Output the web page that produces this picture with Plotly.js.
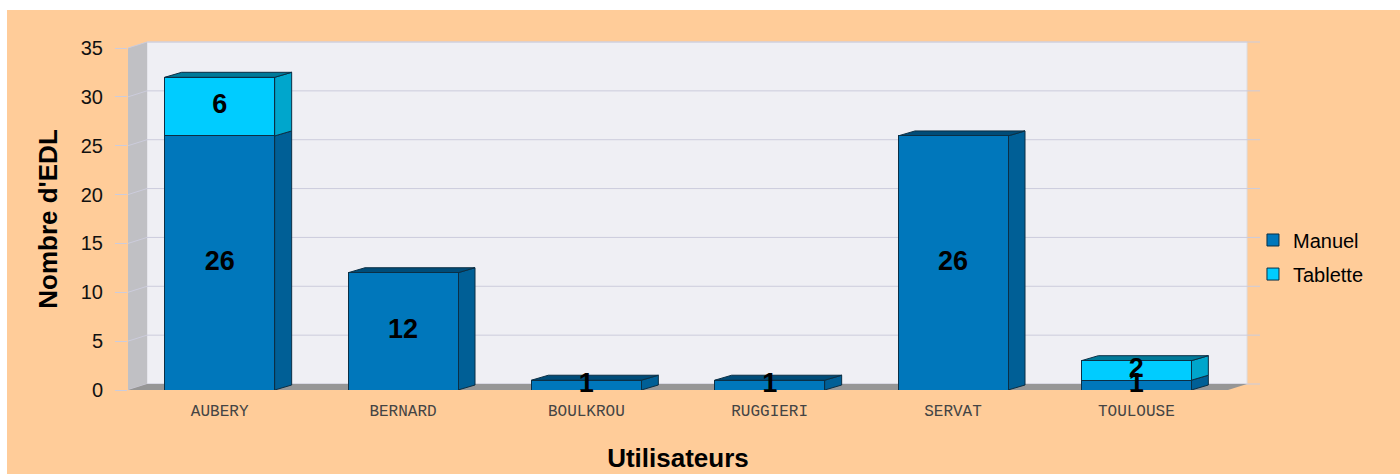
<!DOCTYPE html>
<html>
<head>
<meta charset="utf-8">
<script src="https://cdn.plot.ly/plotly-3.0.1.min.js"></script>
<style>
  html, body { margin: 0; padding: 0; background: #ffffff; }
  #chart { position: absolute; left: 7px; top: 10px; width: 1393px; height: 464px; }
</style>
</head>
<body>
<div id="chart"></div>
<script>
// ---- data ----
const categories = ["AUBERY", "BERNARD", "BOULKROU", "RUGGIERI", "SERVAT", "TOULOUSE"];
const manuel   = [26, 12, 1, 1, 26, 1];
const tablette = [6, 0, 0, 0, 0, 2];
const yTicks   = [0, 5, 10, 15, 20, 25, 30, 35];

// ---- style ----
const colManuel = {front: "#0077BB", side: "#005F96", top: "#004C78"};
const colTab    = {front: "#00CCFF", side: "#00A6CC", top: "#007A99"};
const edge = "#0B2F45";
const barW = 0.6, half = barW / 2;
const xMin = -0.5, xMax = categories.length - 0.5, yMax = 35;
// pixel scale of the front plane (plot area 1100 x 342 px)
const pxX = 1100 / (xMax - xMin), pxY = 342 / yMax;
const BDX = 17 / pxX, BDY = 5 / pxY;   // bar depth (data units)
const WDX = 19 / 1100, WDY = 6 / 342;  // wall depth (paper units)
const px = v => v / yMax;              // y data -> paper

const xs = categories.map((_, i) => i);
const shapes = [];

function poly(pts, fill, line, lw, ref) {
  let p = "M" + pts.map(q => q[0] + "," + q[1]).join(" L") + " Z";
  return {type: "path", path: p, xref: ref || "x", yref: ref ? "paper" : "y", fillcolor: fill,
          line: {color: line || fill, width: lw === undefined ? 0 : lw}, layer: "below"};
}

// back wall (paper coordinates, so that it is not clipped)
shapes.push(poly([[WDX, WDY], [1 + WDX, WDY], [1 + WDX, 1 + WDY], [WDX, 1 + WDY]], "#EFEFF4", "#DCDCE2", 1, "paper"));
// side wall
shapes.push(poly([[0, 0], [WDX, WDY], [WDX, 1 + WDY], [0, 1]], "#C0C0C4", null, 0, "paper"));
// gridlines on walls
const ext = 13 / 1100;
yTicks.forEach(v => {
  shapes.push({type: "line", xref: "paper", yref: "paper", x0: WDX, x1: 1 + WDX + ext, y0: px(v) + WDY, y1: px(v) + WDY,
               line: {color: "#CCCCDC", width: 1}, layer: "below"});
  shapes.push({type: "line", xref: "paper", yref: "paper", x0: 0, x1: WDX, y0: px(v), y1: px(v) + WDY,
               line: {color: "#CCCCDC", width: 1}, layer: "below"});
});
// floor
shapes.push(poly([[0, 0], [1, 0], [1 + WDX, WDY], [WDX, WDY]], "#969696", null, 0, "paper"));

// 3D faces of bars
xs.forEach(i => {
  const segs = [
    {b: 0, v: manuel[i], c: colManuel},
    {b: manuel[i], v: tablette[i], c: colTab}
  ].filter(s => s.v > 0);
  segs.forEach((s, k) => {
    const r = i + half;
    shapes.push(poly([[r, s.b], [r + BDX, s.b + BDY], [r + BDX, s.b + s.v + BDY], [r, s.b + s.v]], s.c.side, edge, 1));
    if (k === segs.length - 1) {
      const t = s.b + s.v;
      shapes.push(poly([[i - half, t], [i - half + BDX, t + BDY], [r + BDX, t + BDY], [r, t]], s.c.top, edge, 1));
    }
  });
});

const labelFont = {family: "Liberation Sans, Arial, sans-serif", size: 27, color: "#000", weight: "bold"};
const withTab = xs.filter(i => tablette[i] > 0);
const traces = [
  {type: "bar", name: "Manuel", x: xs, y: manuel, width: barW, legend: "legend",
   marker: {color: colManuel.front, line: {color: edge, width: 1}}, hoverinfo: "skip"},
  {type: "bar", name: "Tablette", x: xs, y: tablette, width: barW, legend: "legend2",
   marker: {color: colTab.front, line: {color: edge, width: 1}}, hoverinfo: "skip"},
  {type: "scatter", mode: "text", showlegend: false, hoverinfo: "skip", cliponaxis: false,
   x: xs, y: manuel.map(v => v / 2), text: manuel.map(String), textposition: "middle center",
   textfont: labelFont},
  {type: "scatter", mode: "text", showlegend: false, hoverinfo: "skip", cliponaxis: false,
   x: withTab, y: withTab.map(i => manuel[i] + tablette[i] / 2),
   text: withTab.map(i => String(tablette[i])), textposition: "middle center",
   textfont: labelFont}
];

const legendCommon = {x: 1.0227, xanchor: "left", yanchor: "middle", bgcolor: "rgba(0,0,0,0)",
  font: {family: "Liberation Sans, Arial, sans-serif", size: 20, color: "#000"}};

const layout = {
  width: 1393, height: 464,
  margin: {l: 121, r: 172, t: 38, b: 84},
  paper_bgcolor: "#FFCC99",
  plot_bgcolor: "rgba(0,0,0,0)",
  barmode: "stack",
  showlegend: true,
  legend: Object.assign({y: 0.4386}, legendCommon),
  legend2: Object.assign({y: 0.339}, legendCommon),
  xaxis: {
    type: "linear", range: [xMin, xMax], tickvals: xs, ticktext: categories,
    showgrid: false, zeroline: false, showline: false, ticks: "",
    ticklabelstandoff: 9,
    tickfont: {family: "Courier New, Liberation Mono, monospace", size: 16, color: "#444444"},
    title: {text: "Utilisateurs", standoff: 28,
            font: {family: "Liberation Sans, Arial, sans-serif", size: 26, color: "#000", weight: "bold"}},
    automargin: false
  },
  yaxis: {
    range: [0, yMax], tickvals: yTicks, showgrid: false, zeroline: false, showline: false,
    ticks: "outside", ticklen: 12, tickcolor: "#CCCCDC", tickwidth: 1, ticklabelstandoff: 8,
    tickfont: {family: "Liberation Sans, Arial, sans-serif", size: 20, color: "#111"},
    title: {text: "Nombre d'EDL", standoff: 15,
            font: {family: "Liberation Sans, Arial, sans-serif", size: 26, color: "#000", weight: "bold"}},
    automargin: false
  },
  shapes: shapes
};

Plotly.newPlot("chart", traces, layout, {displayModeBar: false, staticPlot: true});
</script>
</body>
</html>
